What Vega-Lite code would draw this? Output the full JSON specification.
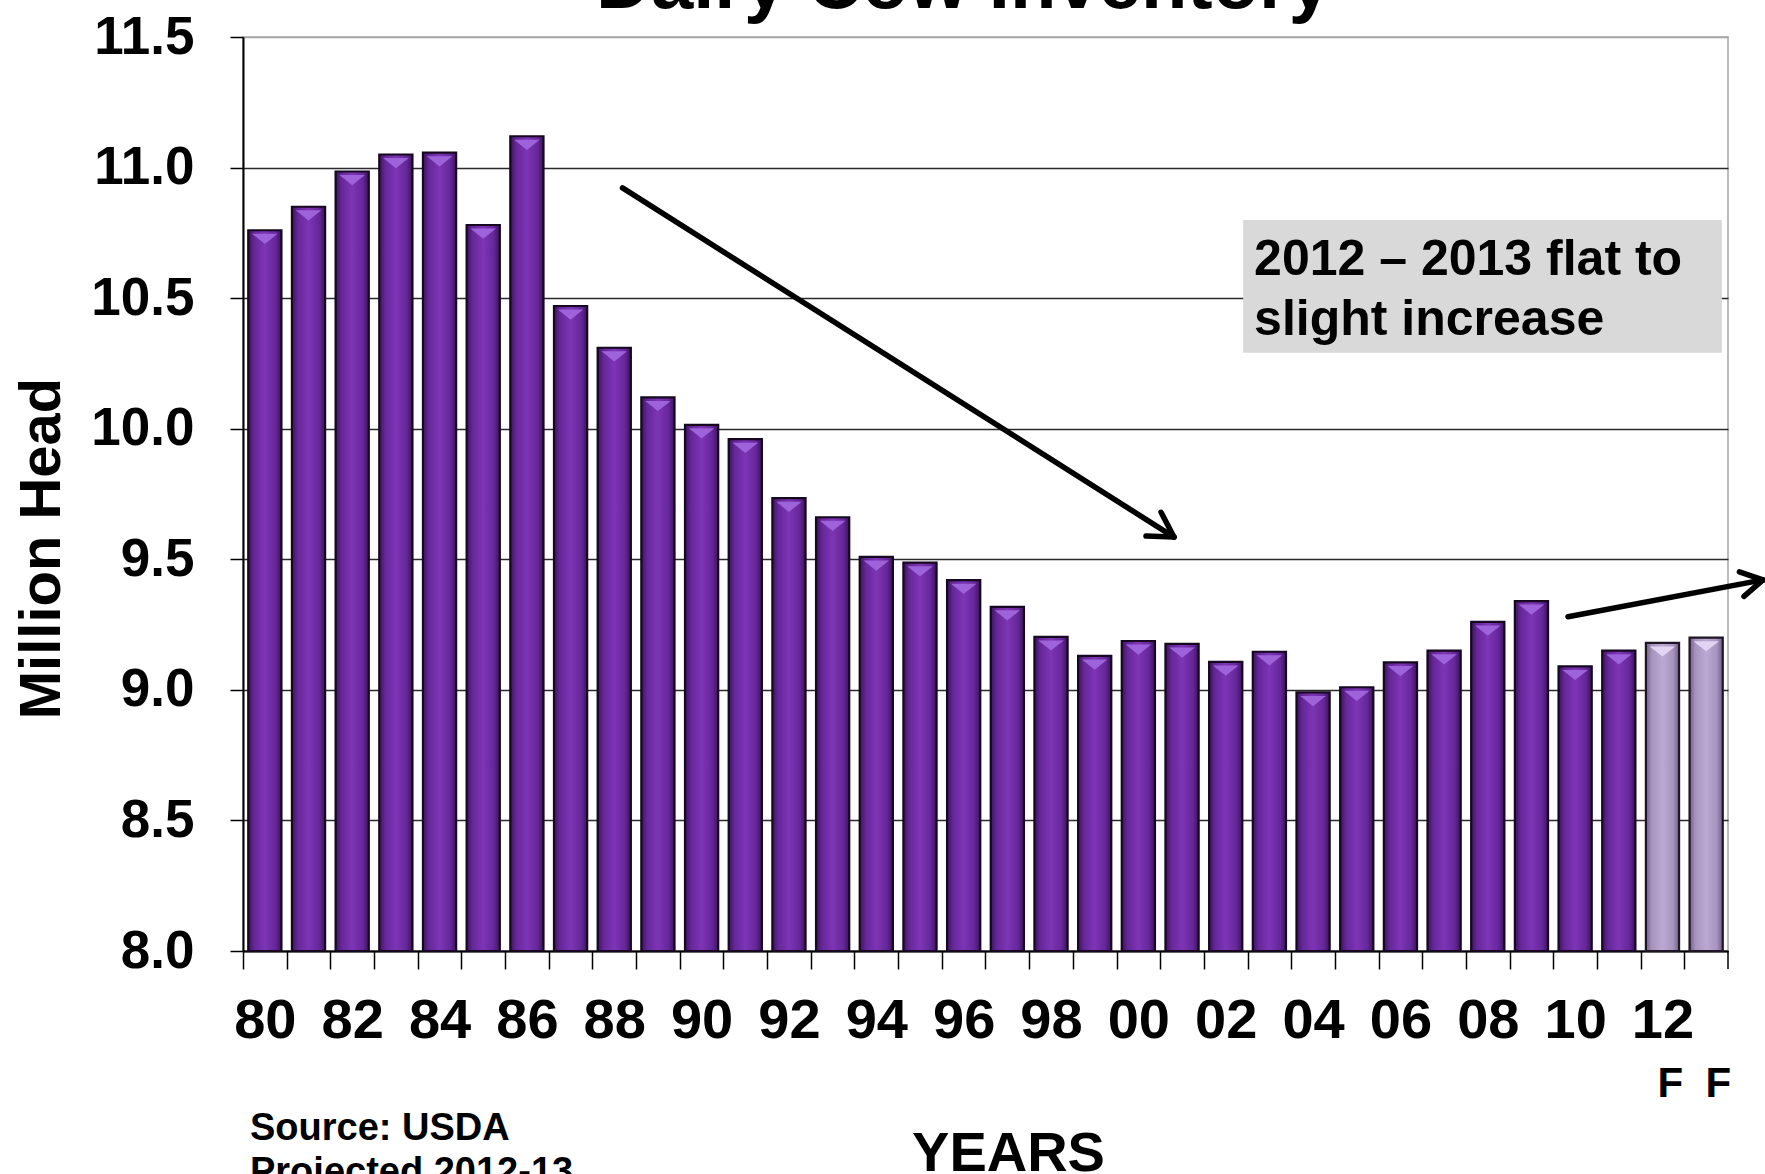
{
  "$schema": "https://vega.github.io/schema/vega-lite/v6.json",
  "autosize": "none",
  "width": 1485,
  "height": 914,
  "padding": {"left": 243, "top": 37, "right": 37, "bottom": 223},
  "background": "white",
  "config": {
    "font": "Liberation Sans",
    "view": {"stroke": "#a6a6a6", "strokeWidth": 1.5}
  },
  "title": {
    "text": "Dairy Cow Inventory",
    "font": "Liberation Sans",
    "fontSize": 76,
    "fontWeight": "bold",
    "color": "black",
    "baseline": "alphabetic",
    "anchor": "middle",
    "frame": "group",
    "dx": -22,
    "dy": 43,
    "offset": -30
  },
  "datasets": {
    "cows": [
      {"year": 1980, "head": 10.76, "status": "actual"},
      {"year": 1981, "head": 10.85, "status": "actual"},
      {"year": 1982, "head": 10.985, "status": "actual"},
      {"year": 1983, "head": 11.05, "status": "actual"},
      {"year": 1984, "head": 11.057, "status": "actual"},
      {"year": 1985, "head": 10.78, "status": "actual"},
      {"year": 1986, "head": 11.12, "status": "actual"},
      {"year": 1987, "head": 10.47, "status": "actual"},
      {"year": 1988, "head": 10.31, "status": "actual"},
      {"year": 1989, "head": 10.12, "status": "actual"},
      {"year": 1990, "head": 10.015, "status": "actual"},
      {"year": 1991, "head": 9.96, "status": "actual"},
      {"year": 1992, "head": 9.734, "status": "actual"},
      {"year": 1993, "head": 9.661, "status": "actual"},
      {"year": 1994, "head": 9.509, "status": "actual"},
      {"year": 1995, "head": 9.487, "status": "actual"},
      {"year": 1996, "head": 9.42, "status": "actual"},
      {"year": 1997, "head": 9.318, "status": "actual"},
      {"year": 1998, "head": 9.203, "status": "actual"},
      {"year": 1999, "head": 9.13, "status": "actual"},
      {"year": 2000, "head": 9.187, "status": "actual"},
      {"year": 2001, "head": 9.176, "status": "actual"},
      {"year": 2002, "head": 9.107, "status": "actual"},
      {"year": 2003, "head": 9.146, "status": "actual"},
      {"year": 2004, "head": 8.99, "status": "actual"},
      {"year": 2005, "head": 9.01, "status": "actual"},
      {"year": 2006, "head": 9.105, "status": "actual"},
      {"year": 2007, "head": 9.15, "status": "actual"},
      {"year": 2008, "head": 9.26, "status": "actual"},
      {"year": 2009, "head": 9.34, "status": "actual"},
      {"year": 2010, "head": 9.09, "status": "actual"},
      {"year": 2011, "head": 9.15, "status": "actual"},
      {"year": 2012, "head": 9.18, "status": "forecast"},
      {"year": 2013, "head": 9.20, "status": "forecast"}
    ],
    "arrows": [
      {"x": 8.689, "y": 10.922, "x2": 21.315, "y2": 9.585},
      {"x": 20.675, "y": 9.589, "x2": 21.315, "y2": 9.585},
      {"x": 21.019, "y": 9.68, "x2": 21.315, "y2": 9.585},
      {"x": 30.337, "y": 9.28, "x2": 34.8, "y2": 9.421},
      {"x": 34.366, "y": 9.358, "x2": 34.8, "y2": 9.421},
      {"x": 34.261, "y": 9.452, "x2": 34.8, "y2": 9.421}
    ],
    "notes": [
      {"x": 23.15, "y": 10.59, "text": ["2012 – 2013 flat to", "slight increase"]}
    ],
    "source": [
      {"x": 0.16, "y": 7.276, "text": ["Source: USDA", "Projected 2012-13"]}
    ],
    "flags": [
      {"x": 32.68, "y": 7.441, "text": "F"},
      {"x": 33.78, "y": 7.441, "text": "F"}
    ]
  },
  "layer": [
    {
      "layer": [
        {
          "data": {"name": "cows"},
          "transform": [{"filter": "datum.status == 'actual'"}],
          "mark": {
            "type": "bar",
            "stroke": "#160820",
            "strokeWidth": 2.2,
            "color": {
              "gradient": "linear", "x1": 0, "x2": 1, "y1": 0, "y2": 0,
              "stops": [
                {"offset": 0, "color": "#3a1459"},
                {"offset": 0.18, "color": "#66279a"},
                {"offset": 0.5, "color": "#7d35b5"},
                {"offset": 0.82, "color": "#66279a"},
                {"offset": 1, "color": "#3a1459"}
              ]
            }
          },
          "encoding": {
            "x": {
              "field": "year", "type": "ordinal",
              "scale": {"paddingInner": 0.24, "paddingOuter": 0.12},
              "axis": {
                "title": "YEARS",
                "titleFont": "Liberation Sans",
                "titleFontSize": 56,
                "titleFontWeight": "bold",
                "titleColor": "black",
                "titleX": 765,
                "titleY": 219,
                "titleBaseline": "alphabetic",
                "titleAlign": "center",
                "labelExpr": "datum.value % 2 == 0 && datum.value < 2013 ? slice(toString(datum.value), 2) : ''",
                "labelAngle": 0,
                "labelFont": "Liberation Sans",
                "labelFontSize": 56,
                "labelFontWeight": "bold",
                "labelColor": "black",
                "labelOverlap": false,
                "labelBound": false,
                "labelFlush": false,
                "labelPadding": 24,
                "tickOffset": -21.84,
                "labelOffset": 21.84,
                "tickSize": 18,
                "tickColor": "black",
                "tickWidth": 1.5,
                "domainColor": "black",
                "domainWidth": 2,
                "grid": false
              }
            },
            "y": {
              "field": "head", "type": "quantitative",
              "scale": {"domain": [8, 11.5], "zero": false, "nice": false},
              "axis": {
                "title": "Million Head",
                "titleFont": "Liberation Sans",
                "titleFontSize": 58,
                "titleFontWeight": "bold",
                "titleColor": "black",
                "titleX": -201,
                "titleY": 511,
                "titleAngle": -90,
                "titleAlign": "center",
                "titleBaseline": "middle",
                "values": [8, 8.5, 9, 9.5, 10, 10.5, 11, 11.5],
                "format": ".1f",
                "labelFont": "Liberation Sans",
                "labelFontSize": 53,
                "labelFontWeight": "bold",
                "labelColor": "black",
                "labelPadding": 36,
                "labelFlush": false,
                "labelBound": false,
                "tickSize": 13,
                "tickColor": "black",
                "tickWidth": 1.5,
                "domainColor": "black",
                "domainWidth": 2,
                "grid": true,
                "gridColor": {"condition": {"test": "datum.value == 11.5", "value": "#a6a6a6"}, "value": "#2a2a2a"},
                "gridWidth": 1.6
              }
            },
            "y2": {"datum": 8}
          }
        },
        {
          "data": {"name": "cows"},
          "transform": [{"filter": "datum.status == 'forecast'"}],
          "mark": {
            "type": "bar",
            "stroke": "#1e1626",
            "strokeWidth": 2.2,
            "color": {
              "gradient": "linear", "x1": 0, "x2": 1, "y1": 0, "y2": 0,
              "stops": [
                {"offset": 0, "color": "#6f5e85"},
                {"offset": 0.18, "color": "#a795c0"},
                {"offset": 0.5, "color": "#bba9d3"},
                {"offset": 0.82, "color": "#a795c0"},
                {"offset": 1, "color": "#6f5e85"}
              ]
            }
          },
          "encoding": {
            "x": {"field": "year", "type": "ordinal"},
            "y": {"field": "head", "type": "quantitative"},
            "y2": {"datum": 8}
          }
        },
        {
          "data": {"name": "cows"},
          "mark": {
            "type": "point",
            "shape": "M -1 -0.35 L 1 -0.35 L 0 0.45 Z",
            "filled": true,
            "size": 650,
            "yOffset": 8,
            "opacity": 0.95
          },
          "encoding": {
            "x": {"field": "year", "type": "ordinal"},
            "y": {"field": "head", "type": "quantitative"},
            "color": {
              "field": "status", "type": "nominal",
              "scale": {"domain": ["actual", "forecast"], "range": ["#a065dc", "#e4d6f4"]},
              "legend": null
            }
          }
        }
      ]
    },
    {
      "layer": [
        {
          "data": {"name": "notes"},
          "mark": {"type": "rect", "color": "#d9d9d9"},
          "encoding": {
            "x": {"datum": 22.9, "type": "quantitative", "scale": {"domain": [0, 34], "nice": false, "zero": false}, "axis": null},
            "x2": {"datum": 33.86},
            "y": {"datum": 10.799, "type": "quantitative"},
            "y2": {"datum": 10.291}
          }
        },
        {
          "data": {"name": "notes"},
          "mark": {"type": "text", "align": "left", "baseline": "alphabetic", "font": "Liberation Sans", "fontSize": 50, "fontWeight": "bold", "color": "black", "lineHeight": 60},
          "encoding": {
            "x": {"field": "x", "type": "quantitative", "axis": null},
            "y": {"field": "y", "type": "quantitative"},
            "text": {"field": "text"}
          }
        },
        {
          "data": {"name": "arrows"},
          "mark": {"type": "rule", "color": "black", "strokeWidth": 5.5, "strokeCap": "round"},
          "encoding": {
            "x": {"field": "x", "type": "quantitative", "axis": null},
            "y": {"field": "y", "type": "quantitative"},
            "x2": {"field": "x2"},
            "y2": {"field": "y2"}
          }
        },
        {
          "data": {"name": "source"},
          "mark": {"type": "text", "align": "left", "baseline": "alphabetic", "font": "Liberation Sans", "fontSize": 38, "fontWeight": "bold", "color": "black", "lineHeight": 44},
          "encoding": {
            "x": {"field": "x", "type": "quantitative", "axis": null},
            "y": {"field": "y", "type": "quantitative"},
            "text": {"field": "text"}
          }
        },
        {
          "data": {"name": "flags"},
          "mark": {"type": "text", "align": "center", "baseline": "alphabetic", "font": "Liberation Sans", "fontSize": 42, "fontWeight": "bold", "color": "black"},
          "encoding": {
            "x": {"field": "x", "type": "quantitative", "axis": null},
            "y": {"field": "y", "type": "quantitative"},
            "text": {"field": "text"}
          }
        },
        {
          "data": {"values": [{"edge": 34}]},
          "mark": {"type": "rule", "color": "black", "strokeWidth": 1.5},
          "encoding": {
            "x": {"field": "edge", "type": "quantitative", "axis": null},
            "y": {"datum": 8, "type": "quantitative"},
            "y2": {"datum": 7.931}
          }
        }
      ]
    }
  ],
  "resolve": {"scale": {"x": "independent"}}
}
